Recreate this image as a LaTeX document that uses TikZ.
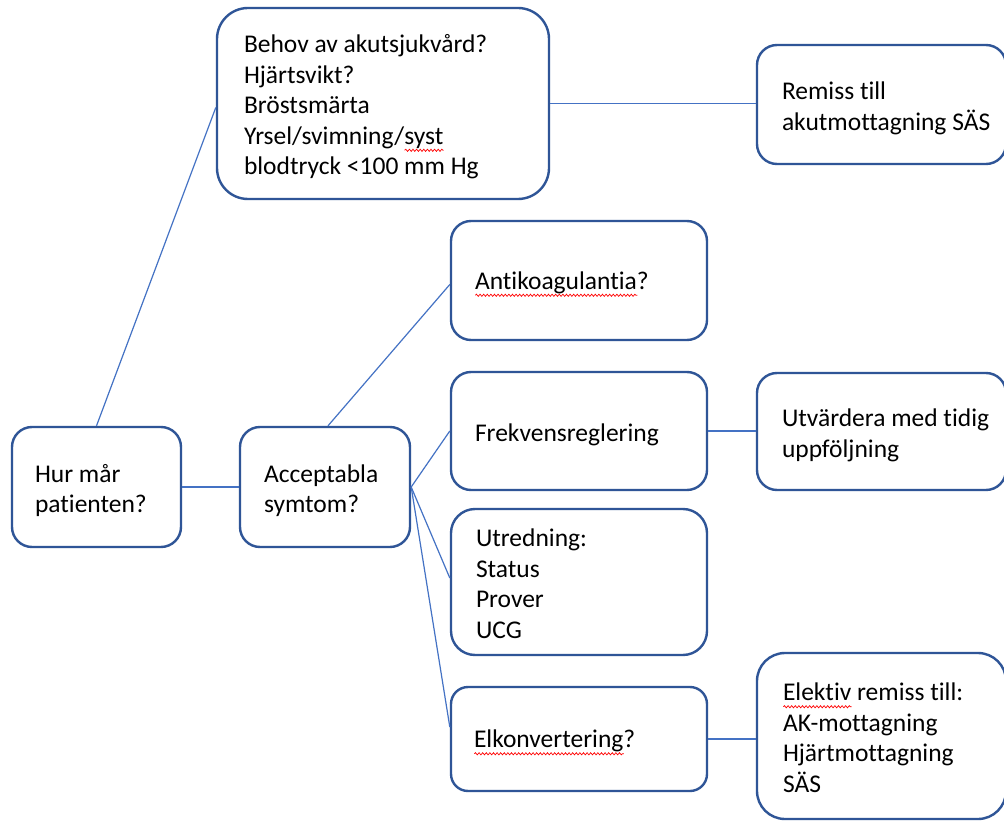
\documentclass[tikz,border=0pt]{standalone}
\usepackage{fontspec}
\setmainfont{Carlito}[Ligatures=NoCommon]
\usetikzlibrary{decorations.pathmorphing}
\newlength\wavelen
\newcommand\spellwave[1]{\settowidth\wavelen{#1}\rlap{\raisebox{-6pt}{\tikz[x=1pt,y=1pt,baseline=0pt]\draw[red, line width=0.7pt, sharp corners, fill=none, decorate, decoration={snake, amplitude=1.1pt, segment length=3.6pt}] (0,0) -- (\wavelen,0);}}#1}
\definecolor{boxblue}{HTML}{2F5597}
\definecolor{lineblue}{HTML}{4472C4}
\tikzset{
  box/.style={draw=boxblue, line width=2.4pt, fill=white, rectangle, align=flush left,
    inner xsep=0pt, inner ysep=0pt,
    font=\fontsize{25.5}{30.5}\selectfont,
    execute at begin node={\rule{0pt}{25pt}},
    execute at end node={\rule[-4pt]{0pt}{4pt}}},
  conn/.style={draw=lineblue, line width=1.2pt},
}
% #1 width, #2 height, #3 left pad, #4 radius
\tikzset{dims/.style n args={4}{minimum width=#1pt, minimum height=#2pt,
    text width=#1pt-2*#3pt, rounded corners=#4pt}}
\begin{document}
\begin{tikzpicture}[x=1pt,y=-1pt]
\useasboundingbox (0,0) rectangle (1004,821);
\fill[white] (0,0) rectangle (1004,821);

\node[box, dims={169}{120}{23}{20}] (hur) at (96.5,487) {Hur mår\\patienten?};
\node[box, dims={170}{120}{24}{20}] (acc) at (325,487) {Acceptabla\\symtom?};
\node[box, dims={332}{191}{27}{31}] (beh) at (383,103.5)
  {\mbox{Behov av akutsjukvård?}\\Hjärtsvikt?\\Bröstsmärta\\Yrsel/svimning/\spellwave{syst}\\\mbox{blodtryck <100 mm Hg}};
\node[box, dims={249}{119}{25}{20}] (rem) at (881.5,104.5) {Remiss till\\\mbox{akutmottagning SÄS}};
\node[box, dims={256}{119}{24}{20}] (anti) at (579,280.5) {\spellwave{Antikoagulantia}?};
\node[box, dims={256}{118}{24}{20}] (frek) at (579,431) {Frekvensreglering};
\node[box, dims={256}{146}{25}{24}] (utr) at (579,582) {Utredning:\\Status\\Prover\\UCG};
\node[box, dims={256}{104}{23}{17}] (elk) at (579,739) {\spellwave{Elkonvertering}?};
\node[box, dims={249}{117}{25}{20}] (utv) at (881.5,431.5) {\mbox{Utvärdera med tidig}\\uppföljning};
\node[box, dims={249}{166}{26}{28}] (elek) at (881.5,736) {\mbox{\spellwave{Elektiv} remiss till:}\\AK-mottagning\\Hjärtmottagning\\SÄS};

\draw[conn] (hur.north) -- ([yshift=-4pt]beh.west);
\draw[conn] (hur.east) -- (acc.west);
\draw[conn] (beh.east) -- (rem.west |- beh.east);
\draw[conn] ([xshift=3pt]acc.north) -- ([yshift=-4pt]anti.west);
\draw[conn] (acc.east) -- (frek.west);
\draw[conn] (acc.east) -- ([yshift=4pt]utr.west);
\draw[conn] (acc.east) -- ([yshift=12pt]elk.west);
\draw[conn] (frek.east) -- (utv.west |- frek.east);
\draw[conn] (elk.east) -- (elk.east -| elek.west);
\end{tikzpicture}
\end{document}
